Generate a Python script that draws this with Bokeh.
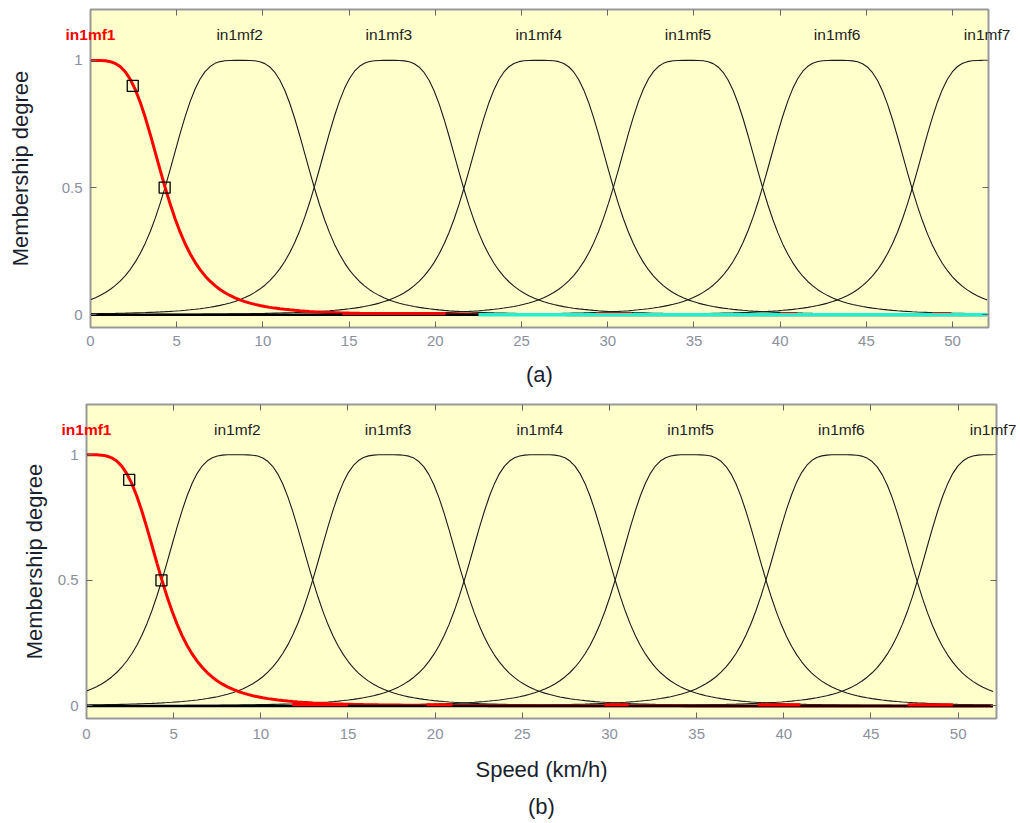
import numpy as np
from bokeh.plotting import figure
from bokeh.models import Range1d, LinearAxis, FixedTicker, ColumnDataSource
from bokeh.core.properties import value
from bokeh.layouts import column
from bokeh.embed import file_html
from bokeh.resources import INLINE

# ---- data ----
mf_names = ["in1mf1", "in1mf2", "in1mf3", "in1mf4", "in1mf5", "in1mf6", "in1mf7"]
mf_centers = [0.0, 8.65, 17.3, 26.0, 34.65, 43.3, 52.0]   # bell centres (km/h)
mf_widths = [4.33, 4.33, 4.33, 4.33, 4.33, 4.33, 4.33]     # half-width at 0.5
mf_slopes = [2.0, 2.0, 2.0, 2.0, 2.0, 2.0, 2.0]
x_ticks = [0, 5, 10, 15, 20, 25, 30, 35, 40, 45, 50]
y_ticks = [0, 0.5, 1]
y_tick_labels = {0: "0", 0.5: "0.5", 1: "1"}
marker_x = [2.45, 4.3]
marker_y = [0.9, 0.5]
# rendering artefacts along the zero line
red_start_a = [14.6, 19.4, 29.3, 40.0, 48.8]
red_end_a = [19.4, 20.6, 31.4, 41.0, 49.9]
cyan_start_a = [22.5]
cyan_end_a = [52.0]
red_start_b = [11.8, 19.5, 29.7, 38.5, 47.1]
red_end_b = [15.0, 21.0, 31.1, 40.95, 49.7]

x_grid = np.linspace(0, 52, 181)

BG = "#FFFFCC"
GREY = "#999999"
TICK_TXT = "#8b90a0"
FONT = "Liberation Sans"


def gbell(x, a, b, c):
    return 1.0 / (1.0 + np.abs((x - c) / a) ** (2 * b))


def make_panel(width, height, bl, br, bt, bb, xmax, caption, xlabel,
               red_s, red_e, cyan_s, cyan_e, ylab_standoff, tick_standoff,
               xlab_standoff, cap_standoff):
    p = figure(width=width, height=height, output_backend="svg",
               toolbar_location=None, x_range=Range1d(0, xmax),
               y_range=Range1d(-0.05, 1.2), background_fill_color=BG,
               border_fill_color="white", min_border_left=bl,
               min_border_right=br, min_border_top=bt, min_border_bottom=bb)
    p.frame_align = False
    p.grid.visible = False
    p.outline_line_color = GREY
    p.outline_line_width = 2

    # black membership functions
    for i in range(1, len(mf_names)):
        y = gbell(x_grid, mf_widths[i], mf_slopes[i], mf_centers[i])
        p.line(x_grid, y, line_color="#1a1a1a", line_width=1.1)
    # selected (red) function
    y1 = gbell(x_grid, mf_widths[0], mf_slopes[0], mf_centers[0])
    p.line(x_grid, y1, line_color="#ff0000", line_width=3)

    # overlapping near-zero tails form a thick black base line
    p.line(x_grid, np.zeros_like(x_grid), line_color="black", line_width=2.5)
    p.segment(x0=red_s, y0=[0.005] * len(red_s), x1=red_e,
              y1=[0.005] * len(red_s), line_color="#ff0000", line_width=3)
    if cyan_s:
        p.segment(x0=cyan_s, y0=[0] * len(cyan_s), x1=cyan_e,
                  y1=[0] * len(cyan_s), line_color="#22f0d0", line_width=3.5)

    p.scatter(marker_x, marker_y, marker="square", size=11,
              fill_color=None, line_color="black", line_width=1.3)

    src = ColumnDataSource(dict(
        x=mf_centers, y=[1.1] * len(mf_names), t=mf_names,
        c=["#ff0000"] + ["#222222"] * (len(mf_names) - 1),
        s=["bold"] + ["normal"] * (len(mf_names) - 1)))
    p.text(x="x", y="y", text="t", source=src, text_color="c",
           text_font_style="s", text_align="center", text_baseline="middle",
           text_font=value(FONT), text_font_size="15.5px", level="overlay")

    def style(ax, labels=True):
        ax.axis_line_color = GREY
        ax.axis_line_width = 1
        ax.major_tick_line_color = "#666666"
        ax.major_tick_in = 6
        ax.major_tick_out = 0
        ax.minor_tick_line_color = None
        ax.major_label_text_font = FONT
        ax.major_label_text_font_size = "15px"
        ax.major_label_text_color = TICK_TXT if labels else None
        ax.axis_label_text_font = FONT
        ax.axis_label_text_font_size = "22px"
        ax.axis_label_text_font_style = "normal"
        ax.axis_label_text_color = "#1a1f2e"

    xa = p.xaxis[0]
    xa.ticker = FixedTicker(ticks=x_ticks)
    style(xa)
    xa.major_label_standoff = tick_standoff
    xa.axis_label = xlabel if xlabel else caption
    xa.axis_label_standoff = xlab_standoff

    ya = p.yaxis[0]
    ya.ticker = FixedTicker(ticks=y_ticks)
    ya.major_label_overrides = y_tick_labels
    style(ya)
    ya.major_label_standoff = 8
    ya.axis_label = "Membership degree"
    ya.axis_label_standoff = ylab_standoff

    top = LinearAxis(ticker=FixedTicker(ticks=x_ticks))
    style(top, labels=False)
    top.major_label_standoff = 0
    p.add_layout(top, "above")
    right = LinearAxis(ticker=FixedTicker(ticks=y_ticks))
    style(right, labels=False)
    right.major_label_standoff = 0
    p.add_layout(right, "right")

    if xlabel:
        cap = LinearAxis(ticker=FixedTicker(ticks=[]))
        style(cap, labels=False)
        cap.axis_line_color = None
        cap.major_tick_line_color = None
        cap.major_label_standoff = 0
        cap.axis_label = caption
        cap.axis_label_standoff = cap_standoff
        p.add_layout(cap, "below")
    return p


p1 = make_panel(1012, 393, 90, 24, 9, 66, 52.08, "(a)", None,
                red_start_a, red_end_a, cyan_start_a, cyan_end_a,
                26, 8, 13, 0)
p2 = make_panel(1020, 428, 86, 24, 11, 103, 52.2, "(b)", "Speed (km/h)",
                red_start_b, red_end_b, [], [],
                8, 10, 15, 9)

layout = column(p1, p2, spacing=0)
open("out.html", "w").write(file_html(layout, INLINE))
